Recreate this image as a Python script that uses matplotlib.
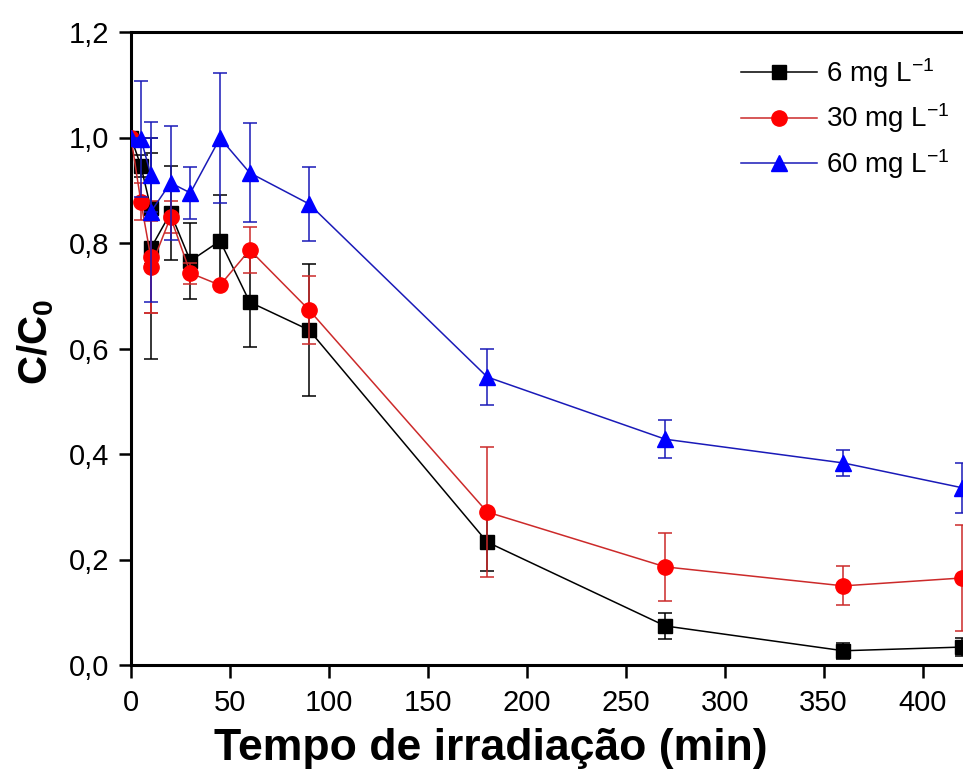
import matplotlib
matplotlib.use("Agg")
import matplotlib.pyplot as plt
from matplotlib.ticker import FuncFormatter, MultipleLocator

plt.rcParams['font.family'] = ['Liberation Sans', 'DejaVu Sans']
plt.rcParams['mathtext.fontset'] = 'custom'
plt.rcParams['mathtext.rm'] = 'Liberation Sans'
plt.rcParams['mathtext.it'] = 'Liberation Sans:italic'
plt.rcParams['mathtext.bf'] = 'Liberation Sans:bold'

# Data
tempo = [0, 5, 10, 10, 20, 30, 45, 60, 90, 180, 270, 360, 420]
labels = ['6 mg L$^{-1}$', '30 mg L$^{-1}$', '60 mg L$^{-1}$']
c6 = [1.0, 0.946, 0.866, 0.790, 0.857, 0.766, 0.804, 0.688, 0.635, 0.233, 0.074, 0.027, 0.034]
c6_err = [0.0, 0.02, 0.105, 0.21, 0.089, 0.072, 0.087, 0.085, 0.125, 0.055, 0.025, 0.015, 0.017]
c30 = [1.0, 0.878, 0.773, 0.754, 0.849, 0.743, 0.720, 0.787, 0.673, 0.290, 0.186, 0.150, 0.165]
c30_err = [0.0, 0.035, 0.106, 0.087, 0.03, 0.02, 0.005, 0.043, 0.065, 0.124, 0.065, 0.037, 0.101]
c60 = [1.0, 0.998, 0.929, 0.859, 0.914, 0.895, 0.999, 0.933, 0.874, 0.546, 0.428, 0.383, 0.336]
c60_err = [0.0, 0.11, 0.07, 0.17, 0.108, 0.05, 0.123, 0.094, 0.07, 0.053, 0.036, 0.024, 0.047]

W, H = 963, 771
fig = plt.figure(figsize=(W / 100, H / 100), dpi=100)
x0, y0, y1 = 131, 665, 32
xmax = 440
px_per_unit = 1.979
ax = fig.add_axes([x0 / W, (H - y0) / H, xmax * px_per_unit / W, (y0 - y1) / H])

series = [
    (c6, c6_err, 'black', 'black', 's', 10),
    (c30, c30_err, '#cc2a2a', 'red', 'o', 11),
    (c60, c60_err, '#1a1ab8', 'blue', '^', 11.5),
]
handles = []
for i, (y, e, lc, mc, m, ms) in enumerate(series):
    cont = ax.errorbar(tempo, y, yerr=e, color=lc, lw=1.1, marker=m, ms=ms,
                       mfc=mc, mec=mc, ecolor=lc, elinewidth=1.1, capsize=5,
                       capthick=1.1, label=labels[i], zorder=2 + i)
    handles.append(cont.lines[0])

ax.set_xlim(0, xmax)
ax.set_ylim(0, 1.2)
ax.xaxis.set_major_locator(MultipleLocator(50))
ax.yaxis.set_major_locator(MultipleLocator(0.2))
ax.yaxis.set_major_formatter(FuncFormatter(lambda v, p: f"{v:.1f}".replace('.', ',')))
ax.tick_params(direction='out', length=9, width=1.8, labelsize=21)
ax.tick_params(axis='x', pad=8.5)
ax.tick_params(axis='y', pad=6.5)
for s in ax.spines.values():
    s.set_linewidth(2.2)

fig.text(491 / W, 1 - 760 / H, 'Tempo de irradiação (min)',
         fontsize=32, fontweight='bold', ha='center', va='baseline')
fig.text(36 / W, 1 - 342 / H, r'C/C$_{\mathbf{0}}$', fontsize=29, fontweight='bold',
         rotation=90, ha='center', va='center')

leg = ax.legend(handles=handles, labels=labels, loc='upper left',
                bbox_to_anchor=(741 / W, 1 - 56 / H),
                bbox_transform=fig.transFigure, frameon=False, fontsize=20,
                handlelength=2.75, handletextpad=0.3, borderpad=0, borderaxespad=0,
                labelspacing=0.42, numpoints=1)

fig.savefig('out.png', dpi=100)
